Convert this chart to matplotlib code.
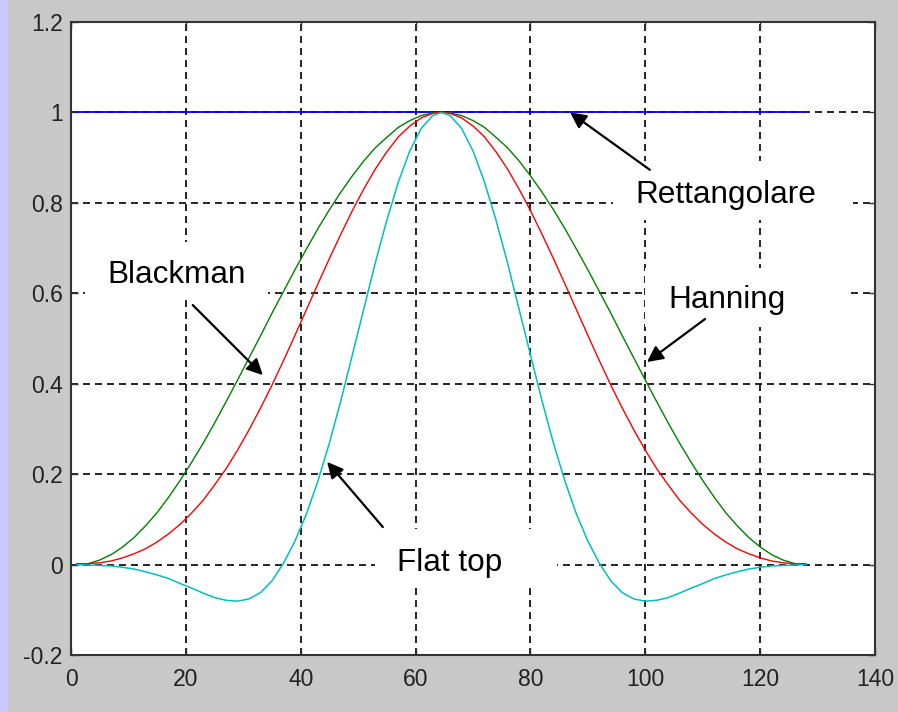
import matplotlib
matplotlib.use("Agg")
import matplotlib.pyplot as plt
from matplotlib.patches import Rectangle

plt.rcParams["font.family"] = ["Liberation Sans", "DejaVu Sans"]

# Sample positions (window of 128 points, centre at 64.5)
x = [1, 3, 5, 7, 9, 11, 13, 15, 17, 19, 21, 23, 25, 27, 29, 31,
     33, 35, 37, 39, 41, 43, 45, 47, 49, 51, 53, 55, 57, 59, 61, 63,
     64.5,
     66, 68, 70, 72, 74, 76, 78, 80, 82, 84, 86, 88, 90, 92, 94,
     96, 98, 100, 102, 104, 106, 108, 110, 112, 114, 116, 118, 120, 122, 124, 126, 128]

# Values
rettangolare = [1.0] * len(x)
hanning = [0.0, 0.002, 0.010, 0.022, 0.039, 0.060, 0.086, 0.115, 0.149, 0.186,
           0.226, 0.268, 0.313, 0.360, 0.408, 0.457, 0.506, 0.556, 0.604, 0.652,
           0.698, 0.743, 0.785, 0.824, 0.860, 0.893, 0.922, 0.945, 0.967, 0.982,
           0.993, 0.999,
           1.0,
           0.999, 0.993, 0.982, 0.967, 0.945, 0.922, 0.893, 0.860, 0.824, 0.785,
           0.743, 0.698, 0.652, 0.604, 0.556, 0.506, 0.457, 0.408, 0.360, 0.313,
           0.268, 0.226, 0.186, 0.149, 0.115, 0.086, 0.060, 0.039, 0.022, 0.010,
           0.002, 0.0]
blackman = [0.002, 0.002, 0.004, 0.008, 0.015, 0.024, 0.035, 0.050, 0.068, 0.089,
            0.114, 0.142, 0.176, 0.212, 0.253, 0.298, 0.346, 0.397, 0.451, 0.507,
            0.564, 0.621, 0.677, 0.731, 0.783, 0.831, 0.875, 0.913, 0.946, 0.970,
            0.988, 0.998,
            1.0,
            0.998, 0.988, 0.970, 0.946, 0.913, 0.875, 0.831, 0.783, 0.731, 0.677,
            0.621, 0.564, 0.507, 0.451, 0.397, 0.346, 0.298, 0.253, 0.212, 0.176,
            0.142, 0.114, 0.089, 0.068, 0.050, 0.035, 0.024, 0.015, 0.008, 0.004,
            0.002, 0.002]
flat_top = [0.0, -0.001, -0.002, -0.003, -0.006, -0.010, -0.016, -0.023, -0.031, -0.042,
            -0.052, -0.063, -0.073, -0.079, -0.081, -0.076, -0.062, -0.036, 0.003, 0.052,
            0.112, 0.185, 0.269, 0.363, 0.464, 0.566, 0.668, 0.762, 0.846, 0.915,
            0.965, 0.993,
            1.0,
            0.993, 0.965, 0.915, 0.846, 0.762, 0.668, 0.566, 0.464, 0.363, 0.269,
            0.185, 0.112, 0.052, 0.003, -0.036, -0.062, -0.076, -0.081, -0.079, -0.073,
            -0.063, -0.052, -0.042, -0.031, -0.023, -0.016, -0.010, -0.006, -0.003, -0.002,
            -0.001, 0.0]

x_ticks = [0, 20, 40, 60, 80, 100, 120, 140]
y_ticks = [-0.2, 0, 0.2, 0.4, 0.6, 0.8, 1, 1.2]
y_labels = ["-0.2", "0", "0.2", "0.4", "0.6", "0.8", "1", "1.2"]

fig = plt.figure(figsize=(8.98, 7.12), dpi=100, facecolor="#c8c8c8")
fig.patches.append(Rectangle((0, 0), 7 / 898, 1, transform=fig.transFigure,
                             color="#c8c8ff", zorder=0))
ax = fig.add_axes([71 / 898, 1 - 655 / 712, 804 / 898, 633 / 712])

ax.plot(x, rettangolare, color="#0000ff", lw=1.3, zorder=3)
ax.plot(x, hanning, color="#008000", lw=1.0, zorder=3)
ax.plot(x, blackman, color="#ff0000", lw=1.0, zorder=3)
ax.plot(x, flat_top, color="#00bfbf", lw=1.1, zorder=3)

ax.set_xlim(0, 140)
ax.set_ylim(-0.2, 1.2)
ax.set_xticks(x_ticks)
ax.set_yticks(y_ticks)
ax.set_yticklabels(y_labels)
ax.tick_params(direction="in", length=5, width=1, top=True, right=True,
               labelsize=16.5, labelcolor="#222222", color="#333333")
ax.tick_params(axis="x", pad=9)
ax.tick_params(axis="y", pad=6)
ax.grid(True, color="black", lw=1.2, ls=(0, (4.2, 3)), zorder=1)
for s in ax.spines.values():
    s.set_color("#333333")
    s.set_linewidth(1.5)

# white label boxes pasted over the grid
for (bx0, bx1, by0, by1) in [(94.4, 136.2, 0.762, 0.893),
                             (99.9, 135.3, 0.526, 0.656),
                             (2.4, 34.3, 0.585, 0.714),
                             (52.9, 84.6, -0.050, 0.079)]:
    ax.add_patch(Rectangle((bx0, by0), bx1 - bx0, by1 - by0, fc="white",
                           ec="none", zorder=2))

ax.text(98.2, 0.800, "Rettangolare", fontsize=22.7, ha="left", va="baseline", zorder=4)
ax.text(104.1, 0.568, "Hanning", fontsize=22.7, ha="left", va="baseline", zorder=4)
ax.text(6.3, 0.623, "Blackman", fontsize=22.7, ha="left", va="baseline", zorder=4)
ax.text(56.8, -0.014, "Flat top", fontsize=22.7, ha="left", va="baseline", zorder=4)

arrow = dict(arrowstyle="-|>", color="black", lw=1.6, mutation_scale=24,
             shrinkA=0, shrinkB=0)
ax.annotate("", xy=(86.9, 1.0), xytext=(100.8, 0.873), arrowprops=arrow, zorder=4)
ax.annotate("", xy=(100.3, 0.448), xytext=(110.4, 0.543), arrowprops=arrow, zorder=4)
ax.annotate("", xy=(33.4, 0.419), xytext=(21.2, 0.574), arrowprops=arrow, zorder=4)
ax.annotate("", xy=(44.6, 0.227), xytext=(54.3, 0.083), arrowprops=arrow, zorder=4)

fig.savefig("out.png", dpi=100, facecolor=fig.get_facecolor())
